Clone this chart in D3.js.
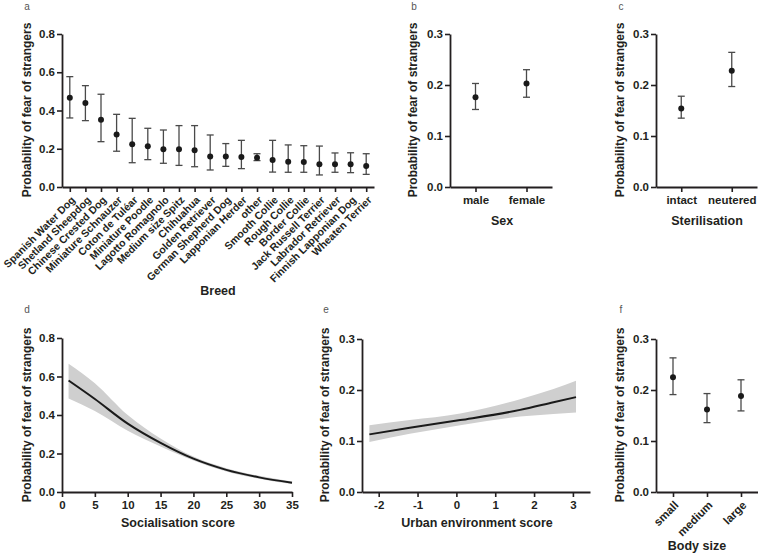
<!DOCTYPE html>
<html>
<head>
  <meta charset='utf-8'>
  <title>Probability of fear of strangers</title>
  <style>
    body { margin: 0; background: #fff; }
    text { font-family: 'Liberation Sans', Arial, sans-serif; }
  </style>
</head>
<body>
<div id="chart"></div>
<script src="https://d3js.org/d3.v7.min.js"></script>
<script>
  // ---- data ----
  var breeds = ["Spanish Water Dog", "Shetland Sheepdog", "Chinese Crested Dog", "Miniature Schnauzer",
    "Coton de Tuléar", "Miniature Poodle", "Lagotto Romagnolo", "Medium size Spitz", "Chihuahua",
    "Golden Retriever", "German Shepherd Dog", "Lapponian Herder", "other", "Smooth Collie",
    "Rough Collie", "Border Collie", "Jack Russell Terrier", "Labrador Retriever",
    "Finnish Lapponian Dog", "Wheaten Terrier"];
  var breedMean = [0.467, 0.439, 0.352, 0.274, 0.223, 0.213, 0.197, 0.197, 0.192, 0.160,
    0.159, 0.157, 0.153, 0.141, 0.132, 0.131, 0.119, 0.119, 0.119, 0.110];
  var breedLow = [0.361, 0.347, 0.237, 0.187, 0.127, 0.143, 0.124, 0.113, 0.106, 0.089,
    0.108, 0.096, 0.138, 0.078, 0.077, 0.077, 0.063, 0.077, 0.075, 0.066];
  var breedHigh = [0.577, 0.530, 0.485, 0.380, 0.359, 0.307, 0.298, 0.321, 0.321, 0.272,
    0.227, 0.244, 0.174, 0.244, 0.220, 0.216, 0.214, 0.178, 0.179, 0.174];

  var sexCats = ["male", "female"];
  var sexMean = [0.176, 0.203];
  var sexLow = [0.152, 0.176];
  var sexHigh = [0.203, 0.230];

  var sterCats = ["intact", "neutered"];
  var sterMean = [0.154, 0.228];
  var sterLow = [0.135, 0.197];
  var sterHigh = [0.178, 0.264];

  var sizeCats = ["small", "medium", "large"];
  var sizeMean = [0.225, 0.162, 0.188];
  var sizeLow = [0.191, 0.136, 0.159];
  var sizeHigh = [0.263, 0.193, 0.220];

  var socScore = [1, 5, 10, 15, 20, 25, 30, 35];
  var socMean = [0.579, 0.483, 0.355, 0.255, 0.173, 0.115, 0.076, 0.048];
  var socLow = [0.486, 0.421, 0.318, 0.236, 0.164, 0.107, 0.069, 0.041];
  var socHigh = [0.666, 0.565, 0.400, 0.278, 0.184, 0.124, 0.084, 0.055];

  var urbScore = [-2.24, -1.2, 0.1, 1.64, 2.5, 3.08];
  var urbMean = [0.113, 0.126, 0.141, 0.161, 0.176, 0.186];
  var urbLow = [0.098, 0.114, 0.131, 0.148, 0.153, 0.156];
  var urbHigh = [0.131, 0.141, 0.154, 0.182, 0.202, 0.218];

  var probTicks8 = [0, 0.2, 0.4, 0.6, 0.8];
  var probTicks3 = [0, 0.1, 0.2, 0.3];
  var socTicks = [0, 5, 10, 15, 20, 25, 30, 35];
  var urbTicks = [-2, -1, 0, 1, 2, 3];

  const AXIS_COLOR = "#231f20";
  const BAR_COLOR = "#4a4a4a";
  const BAND_COLOR = "#cfcfcf";
  const TICK_FONT = 11.5;

  var svg = d3.select("#chart").append("svg")
    .attr("width", 758)
    .attr("height", 560);

  function styleAxis(g) {
    g.select(".domain").attr("stroke", AXIS_COLOR).attr("stroke-width", 1.8);
    g.selectAll(".tick line").attr("stroke", AXIS_COLOR).attr("stroke-width", 1.6);
    g.selectAll(".tick text")
      .attr("fill", AXIS_COLOR)
      .style("font-size", TICK_FONT + "px")
      .style("font-weight", "bold")
      .style("font-family", "'Liberation Sans', Arial, sans-serif");
  }

  function drawYAxis(y, xPos, ticks) {
    var g = svg.append("g")
      .attr("transform", "translate(" + xPos + ",0)")
      .call(d3.axisLeft(y).tickValues(ticks).tickFormat(d3.format(".1f")).tickSize(5).tickSizeOuter(0).tickPadding(2));
    styleAxis(g);
    return g;
  }

  function drawXAxis(x, yPos, ticks, fmt) {
    var ax = d3.axisBottom(x).tickSize(5).tickSizeOuter(0).tickPadding(4);
    if (ticks) ax.tickValues(ticks);
    if (fmt) ax.tickFormat(fmt);
    var g = svg.append("g")
      .attr("transform", "translate(0," + yPos + ")")
      .call(ax);
    styleAxis(g);
    return g;
  }

  function rotateLabels(g, size) {
    g.selectAll(".tick text")
      .attr("x", 0).attr("y", 0).attr("dy", "0.35em")
      .attr("text-anchor", "end")
      .attr("transform", "translate(3,11) rotate(-45)")
      .style("font-size", size + "px");
  }

  function label(x, y, txt, size, weight, color) {
    svg.append("text")
      .attr("x", x).attr("y", y)
      .attr("text-anchor", "middle")
      .style("font-size", size + "px")
      .style("font-weight", weight)
      .attr("fill", color || AXIS_COLOR)
      .text(txt);
  }

  function yTitle(cx, cy) {
    svg.append("text")
      .attr("transform", "translate(" + cx + "," + cy + ") rotate(-90)")
      .attr("text-anchor", "middle")
      .attr("dy", "0.35em")
      .style("font-size", "12px")
      .style("font-weight", "bold")
      .attr("fill", AXIS_COLOR)
      .text("Probability of fear of strangers");
  }

  function errorPoints(x, y, cats, mean, low, high) {
    var rows = cats.map(function (c, i) { return { c: c, m: mean[i], lo: low[i], hi: high[i] }; });
    var g = svg.append("g");
    var cap = 3.5;
    var e = g.selectAll("g.err").data(rows).enter().append("g").attr("class", "err");
    e.append("line")
      .attr("x1", function (d) { return x(d.c); })
      .attr("x2", function (d) { return x(d.c); })
      .attr("y1", function (d) { return y(d.lo); })
      .attr("y2", function (d) { return y(d.hi); });
    e.append("line")
      .attr("x1", function (d) { return x(d.c) - cap; })
      .attr("x2", function (d) { return x(d.c) + cap; })
      .attr("y1", function (d) { return y(d.hi); })
      .attr("y2", function (d) { return y(d.hi); });
    e.append("line")
      .attr("x1", function (d) { return x(d.c) - cap; })
      .attr("x2", function (d) { return x(d.c) + cap; })
      .attr("y1", function (d) { return y(d.lo); })
      .attr("y2", function (d) { return y(d.lo); });
    e.selectAll("line").attr("stroke", BAR_COLOR).attr("stroke-width", 1.3);
    e.append("circle")
      .attr("cx", function (d) { return x(d.c); })
      .attr("cy", function (d) { return y(d.m); })
      .attr("r", 3)
      .attr("fill", "#1a1a1a");
  }

  function ribbon(x, y, xs, mean, low, high) {
    var rows = xs.map(function (v, i) { return { x: v, m: mean[i], lo: low[i], hi: high[i] }; });
    svg.append("path")
      .datum(rows)
      .attr("fill", BAND_COLOR)
      .attr("d", d3.area()
        .curve(d3.curveMonotoneX)
        .x(function (d) { return x(d.x); })
        .y0(function (d) { return y(d.lo); })
        .y1(function (d) { return y(d.hi); }));
    svg.append("path")
      .datum(rows)
      .attr("fill", "none")
      .attr("stroke", "#1a1a1a")
      .attr("stroke-width", 2)
      .attr("d", d3.line()
        .curve(d3.curveMonotoneX)
        .x(function (d) { return x(d.x); })
        .y(function (d) { return y(d.m); }));
  }

  // ---- panel a : breed ----
  var xa = d3.scalePoint().domain(breeds).range([62, 374]).padding(0.5);
  var ya = d3.scaleLinear().domain([0, 0.8]).range([187, 34]);
  errorPoints(xa, ya, breeds, breedMean, breedLow, breedHigh);
  var gxa = drawXAxis(xa, 187);
  rotateLabels(gxa, 10.5);
  drawYAxis(ya, 62, probTicks8);
  yTitle(27, 110);
  label(218, 295, "Breed", 12.5, "bold");
  label(27, 10, "a", 10, "normal", "#555");

  // ---- panel b : sex ----
  var xb = d3.scalePoint().domain(sexCats).range([450, 552]).padding(0.5);
  var yb = d3.scaleLinear().domain([0, 0.3]).range([187, 34]);
  errorPoints(xb, yb, sexCats, sexMean, sexLow, sexHigh);
  drawXAxis(xb, 187);
  drawYAxis(yb, 450, probTicks3);
  yTitle(413, 110);
  label(502, 225, "Sex", 12.5, "bold");
  label(414, 10, "b", 10, "normal", "#555");

  // ---- panel c : sterilisation ----
  var xc = d3.scalePoint().domain(sterCats).range([656, 757]).padding(0.5);
  var yc = d3.scaleLinear().domain([0, 0.3]).range([187, 34]);
  errorPoints(xc, yc, sterCats, sterMean, sterLow, sterHigh);
  drawXAxis(xc, 187);
  drawYAxis(yc, 656, probTicks3);
  yTitle(620, 110);
  label(707, 225, "Sterilisation", 12.5, "bold");
  label(621, 10, "c", 10, "normal", "#555");

  // ---- panel d : socialisation score ----
  var xd = d3.scaleLinear().domain([0, 35]).range([62, 292]);
  var yd = d3.scaleLinear().domain([0, 0.8]).range([492, 338]);
  ribbon(xd, yd, socScore, socMean, socLow, socHigh);
  drawXAxis(xd, 492, socTicks, function (d) { return String(d); });
  drawYAxis(yd, 62, probTicks8);
  yTitle(27, 415);
  label(178, 527, "Socialisation score", 12.5, "bold");
  label(27, 313, "d", 10, "normal", "#555");

  // ---- panel e : urban environment score ----
  var xe = d3.scaleLinear().domain([-2.43, 3.44]).range([362, 590]);
  var ye = d3.scaleLinear().domain([0, 0.3]).range([492, 339]);
  ribbon(xe, ye, urbScore, urbMean, urbLow, urbHigh);
  drawXAxis(xe, 492, urbTicks, function (d) { return String(d); });
  drawYAxis(ye, 362, probTicks3);
  yTitle(325, 415);
  label(477, 527, "Urban environment score", 12.5, "bold");
  label(326, 313, "e", 10, "normal", "#555");

  // ---- panel f : body size ----
  var xf = d3.scalePoint().domain(sizeCats).range([656, 758]).padding(0.5);
  var yf = d3.scaleLinear().domain([0, 0.3]).range([492, 339]);
  errorPoints(xf, yf, sizeCats, sizeMean, sizeLow, sizeHigh);
  var gxf = drawXAxis(xf, 492);
  rotateLabels(gxf, 11.5);
  drawYAxis(yf, 656, probTicks3);
  yTitle(620, 415);
  label(697, 550, "Body size", 12.5, "bold");
  label(621, 313, "f", 10, "normal", "#555");
</script>
</body>
</html>
